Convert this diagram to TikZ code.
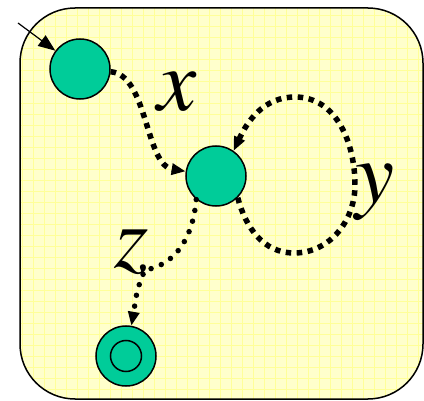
\documentclass[tikz,border=0pt]{standalone}
\usepackage{mathptmx}
\usetikzlibrary{arrows.meta, positioning}
\definecolor{panelfill}{HTML}{FFFFCC}
\definecolor{panelgrid}{HTML}{FFFF99}
\definecolor{stategreen}{HTML}{00CC99}
\begin{document}
\begin{tikzpicture}[x=1pt, y=1pt, >={Triangle[length=14pt, width=11pt]},
  state/.style={circle, draw, line width=1.5pt, fill=stategreen, minimum size=60pt, inner sep=0pt},
  sqdots/.style={line width=5.5pt, dash pattern=on 5.5pt off 5.5pt},
  rddots/.style={line width=5.5pt, line cap=round, dash pattern=on 0pt off 11pt},
  lbl/.style={font=\fontsize{88}{88}\selectfont, inner sep=0pt}]
  \useasboundingbox (0,0) rectangle (424,400);
  % panel with grid
  \fill[panelfill, rounded corners=55pt] (20,1) rectangle (423,392);
  \begin{scope}
    \clip[rounded corners=55pt] (20,1) rectangle (423,392);
    \draw[panelgrid, line width=0.7pt, step=11pt] (20,1) grid (423,392);
  \end{scope}
  \draw[line width=1.5pt, rounded corners=55pt] (20,1) rectangle (423,392);
  % states
  \node[state] (q0) at (80,331) {};
  \node[state] (q1) at (216,224) {};
  \node[state] (q2) at (126,44) {};
  \node[circle, draw, line width=1.5pt, minimum size=31pt, inner sep=0pt] (q2in) at (q2) {};
  \coordinate (init) at (18,377);
  \coordinate (zbend) at (145,130);
  % edges
  \draw[-{Triangle[length=17pt, width=13pt]}, line width=1.2pt] (init) -- (q0);
  \draw[->, sqdots] (q0) .. controls (148,325) and (145,235) .. (q1);
  \draw[->, sqdots] (q1.-45) to[out=-75, in=180] (294,147) to[out=0, in=-90] (355,215)
    to[out=90, in=0] (295,303) to[out=180, in=65] (q1.55);
  \draw[->, rddots] (q1.-130) to[out=-95, in=10] (zbend) to[out=-115, in=80] (q2);
  % labels
  \node[lbl] (xlbl) at (177,308) {$x$};
  \node[lbl] (ylbl) at (375,208) {$y$};
  \node[lbl] (zlbl) at (132,148) {$z$};
\end{tikzpicture}
\end{document}
